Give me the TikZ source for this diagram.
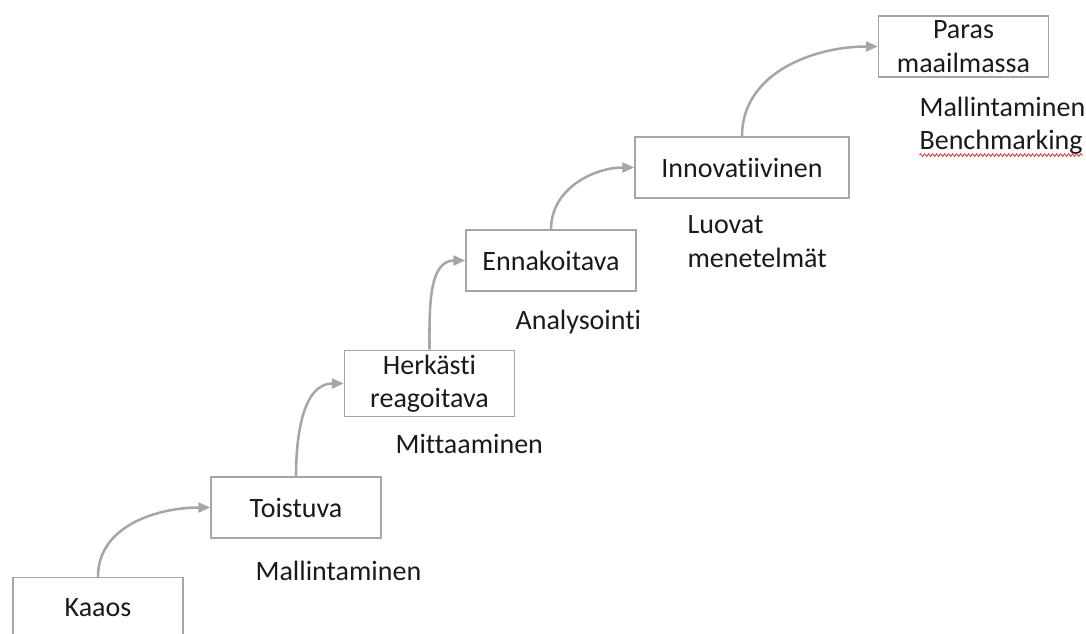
\documentclass[tikz,border=0pt]{standalone}
\usepackage{fontspec}
\setmainfont{Carlito}[Ligatures={NoCommon,NoRequired,NoContextual}]
\usepackage{tikz}
\usetikzlibrary{arrows.meta, positioning, decorations.pathmorphing}
\usepackage{xcolor}
\definecolor{StepGray}{HTML}{A6A6A6}
\definecolor{StepText}{HTML}{1A1A1A}
\definecolor{SpellRed}{HTML}{E03030}
\tikzset{
    % Box styles - all sharp corners
    stage/.style={
        rectangle,
        draw=StepGray,
        fill=white,
        line width=1.1pt,
        minimum width=127.5pt,
        minimum height=45.75pt,
        align=center,
        text=StepText,
        font=\fontsize{21}{25}\selectfont
    },
    method/.style={
        anchor=west,
        inner sep=1pt,
        align=left,
        text=StepText,
        font=\fontsize{21}{25}\selectfont
    },
    % Arrow styles - curved
    arrow/.style={
        -{Triangle[length=9pt,width=7.5pt]},
        line width=1.9pt,
        draw=StepGray
    },
    squiggle/.style={
        draw=SpellRed,
        line width=0.6pt,
        decorate,
        decoration={snake, segment length=3pt, amplitude=1pt}
    }
}
\begin{document}
\begin{tikzpicture}[x=0.75pt, y=-0.75pt]
    \useasboundingbox (0,0) rectangle (1086,633);
    \clip (0,0) rectangle (1086,633);

    \node[stage] (kaaos) at (98,608) {Kaaos};
    \node[stage] (toistuva) at (296,507.5) {Toistuva};
    \node[stage] (herkasti) at (429.5,383.5) {Herkästi\\reagoitava};
    \node[stage] (ennakoitava) at (551,260.5) {Ennakoitava};
    \node[stage, minimum width=160.5pt] (innovatiivinen) at (742,167.5) {Innovatiivinen};
    \node[stage] (paras) at (963.5,46.5) {Paras\\maailmassa};

    \draw[arrow] (kaaos.north) to[out=90, in=180] (toistuva.west);
    \draw[arrow] (toistuva.north) to[out=90, in=180] (herkasti.west);
    \draw[arrow] (herkasti.north) to[out=90, in=180] (ennakoitava.west);
    \draw[arrow] (ennakoitava.north) to[out=90, in=180] (innovatiivinen.west);
    \draw[arrow] (innovatiivinen.north) to[out=90, in=180] (paras.west);

    \node[method] (mallintaminen) at (254,571) {Mallintaminen};
    \node[method] (mittaaminen) at (394,444) {Mittaaminen};
    \node[method] (analysointi) at (514,322) {Analysointi};
    \node[method] (luovat) at (686,241.5) {Luovat\\menetelmät};
    \node[method] (benchmarking) at (918,126) {Mallintaminen\\Benchmarking};

    \draw[squiggle] ([xshift=1pt, yshift=1pt]benchmarking.south west) -- ([xshift=-3pt, yshift=1pt]benchmarking.south east);
\end{tikzpicture}
\end{document}
